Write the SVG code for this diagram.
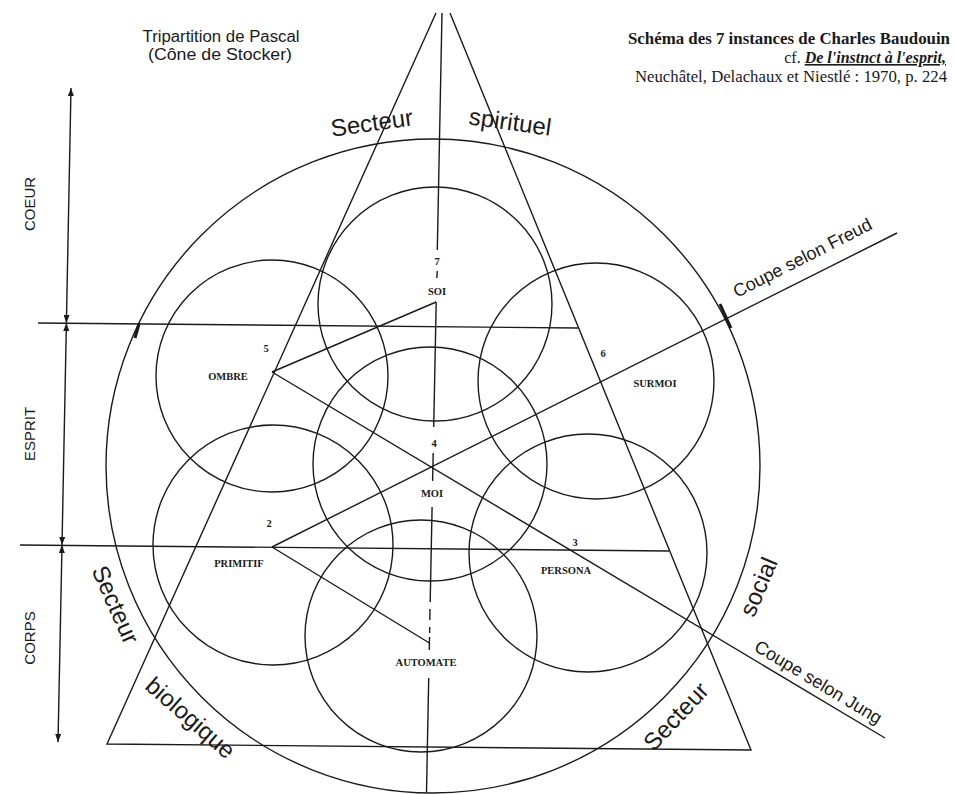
<svg xmlns="http://www.w3.org/2000/svg" width="955" height="794" viewBox="0 0 955 794">
<defs>
<marker id="ah" viewBox="0 0 8 6" refX="8" refY="3" markerWidth="8" markerHeight="6" markerUnits="userSpaceOnUse" orient="auto-start-reverse"><path d="M0,0 L8,3 L0,6 z" fill="#1a1a1a"/></marker>
</defs>
<style>
.ln{stroke:#1a1a1a;stroke-width:1.4;fill:none}
.lb{font-family:"Liberation Serif","Times New Roman",serif;font-weight:bold;font-size:10.5px;fill:#1a1a1a;text-anchor:middle}
.big{font-family:"Liberation Sans",Arial,sans-serif;font-size:24px;fill:#1a1a1a;text-anchor:middle}
.cut{font-family:"Liberation Sans",Arial,sans-serif;font-size:18px;fill:#1a1a1a}
.ax{font-family:"Liberation Sans",Arial,sans-serif;font-size:15px;fill:#1a1a1a;text-anchor:middle}
.hd{font-family:"Liberation Sans",Arial,sans-serif;font-size:16px;fill:#1a1a1a;text-anchor:middle}
.rf{font-family:"Liberation Serif","Times New Roman",serif;font-size:16px;fill:#1a1a1a;text-anchor:end}
</style>
<rect width="955" height="794" fill="#ffffff"/>

<g id="header-left">
<text class="hd" x="221" y="42" textLength="157" lengthAdjust="spacingAndGlyphs">Tripartition de Pascal</text>
<text class="hd" x="220" y="60" textLength="144" lengthAdjust="spacingAndGlyphs">(Cône de Stocker)</text>
</g>
<g id="header-right">
<text class="rf" x="950" y="44" font-weight="bold" textLength="322" lengthAdjust="spacingAndGlyphs">Schéma des 7 instances de Charles Baudouin</text>
<text class="rf" x="946" y="63">cf. <tspan font-weight="bold" font-style="italic" text-decoration="underline">De l'instnct à l'esprit,</tspan></text>
<text class="rf" x="947" y="82" textLength="312" lengthAdjust="spacingAndGlyphs">Neuchâtel, Delachaux et Niestlé : 1970, p. 224</text>
</g>

<g id="big-circle"><circle class="ln" cx="433" cy="466" r="327"/>
<path d="M720,304 L731,328" stroke="#1a1a1a" stroke-width="3"/>
<path d="M139,324 L135,338" stroke="#1a1a1a" stroke-width="3"/>
</g>

<g id="cone">
<path class="ln" d="M436,13 L107,744 L751,750 L450,13"/>
</g>

<g id="circle-soi"><circle class="ln" cx="435" cy="304" r="117"/><text class="lb" x="437" y="265">7</text><text class="lb" x="437" y="295">SOI</text></g>
<g id="circle-ombre"><circle class="ln" cx="272" cy="376" r="116"/><text class="lb" x="266" y="352">5</text><text class="lb" x="228" y="380">OMBRE</text></g>
<g id="circle-surmoi"><circle class="ln" cx="596" cy="381" r="118"/><text class="lb" x="603" y="357">6</text><text class="lb" x="655" y="387">SURMOI</text></g>
<g id="circle-moi"><circle class="ln" cx="430" cy="464" r="117"/><text class="lb" x="434" y="447">4</text><text class="lb" x="432" y="497">MOI</text></g>
<g id="circle-primitif"><circle class="ln" cx="273" cy="545" r="120"/><text class="lb" x="269" y="527">2</text><text class="lb" x="239" y="567">PRIMITIF</text></g>
<g id="circle-persona"><circle class="ln" cx="588" cy="553" r="119"/><text class="lb" x="575" y="546">3</text><text class="lb" x="566" y="574">PERSONA</text></g>
<g id="circle-automate"><circle class="ln" cx="421" cy="636" r="116"/><text class="lb" x="426" y="666">AUTOMATE</text></g>

<g id="connectors">
<path class="ln" d="M38,323 L578,328"/>
<path class="ln" d="M20,545 L669,551"/>
<path class="ln" d="M272,547 L897,233"/>
<path class="ln" d="M272,372 L885,738"/>
<path class="ln" d="M272,372 L436.2,302"/>
<path class="ln" d="M272,547 L429.4,643"/>
<path class="ln" d="M442,13 L437.3,250"/>
<path class="ln" d="M437.3,271 L436.8,278"/>
<path class="ln" d="M436.2,302 L433.7,427"/>
<path class="ln" d="M433.2,453 L432.6,481"/>
<path class="ln" d="M432.1,507 L430.2,602"/>
<path class="ln" d="M430,609 L429.8,620"/>
<path class="ln" d="M429.7,627 L429.6,633"/>
<path class="ln" d="M429.5,637 L429.3,650"/>
<path class="ln" d="M428.7,678 L426.5,792"/>
<path class="ln" d="M71,88 L66.4,323" marker-start="url(#ah)" marker-end="url(#ah)"/>
<path class="ln" d="M66.4,323 L62,545" marker-start="url(#ah)" marker-end="url(#ah)"/>
<path class="ln" d="M62,545 L58,742" marker-start="url(#ah)" marker-end="url(#ah)"/>
</g>

<g id="axis-labels">
<text class="ax" transform="translate(35,204) rotate(-90)">COEUR</text>
<text class="ax" transform="translate(35,434) rotate(-90)">ESPRIT</text>
<text class="ax" transform="translate(35,638) rotate(-90)">CORPS</text>
</g>

<g id="sector-labels">
<text class="big" transform="translate(373,131) rotate(-8)">Secteur</text>
<text class="big" transform="translate(509,130) rotate(8)">spirituel</text>
<text class="big" transform="translate(108,608) rotate(66)">Secteur</text>
<text class="big" transform="translate(185,724) rotate(41)">biologique</text>
<text class="big" transform="translate(682,722) rotate(-47)">Secteur</text>
<text class="big" transform="translate(766,590) rotate(-67)">social</text>
<text class="cut" transform="translate(737,298) rotate(-27)">Coupe selon Freud</text>
<text class="cut" transform="translate(753,650) rotate(31)">Coupe selon Jung</text>
</g>
</svg>
